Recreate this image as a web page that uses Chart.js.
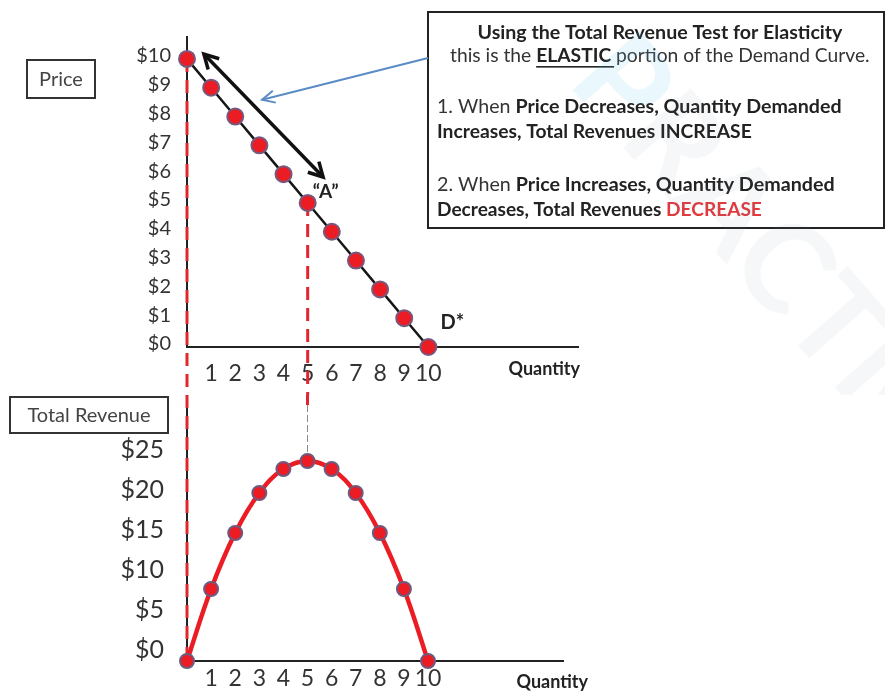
<!DOCTYPE html>
<html>
<head>
<meta charset="utf-8">
<script src="https://cdn.jsdelivr.net/npm/chart.js@4.4.1/dist/chart.umd.min.js"></script>
<style>
  html, body { margin: 0; padding: 0; background: #fff; }
  #wrap { position: relative; width: 885px; height: 692px; overflow: hidden; }
  canvas { position: absolute; left: 0; }
  #demand { top: 0; }
  #revenue { top: 395px; }
</style>
</head>
<body>
<div id="wrap">
  <canvas id="demand" width="885" height="395"></canvas>
  <canvas id="revenue" width="885" height="297"></canvas>
</div>
<script>
// ---- data -------------------------------------------------------------
const quantity      = [0, 1, 2, 3, 4, 5, 6, 7, 8, 9, 10];
const price         = [10, 9, 8, 7, 6, 5, 4, 3, 2, 1, 0];
const totalRevenue  = [0, 9, 16, 21, 24, 25, 24, 21, 16, 9, 0];
const quantityTicks = [1, 2, 3, 4, 5, 6, 7, 8, 9, 10];
const priceTicks    = [0, 1, 2, 3, 4, 5, 6, 7, 8, 9, 10];
const revenueTicks  = [0, 5, 10, 15, 20, 25];
const dropIndices   = [0, 5];          // points carried down to the revenue panel
const pointA        = 5;               // index of the "A" point
// elastic-range arrow, in (quantity, price) units
const elasticArrow  = { from: [0.7, 10.17], to: [5.64, 5.9] };
const calloutTip    = [3.11, 8.58];

const FONT = 'Lato, "Open Sans", "DejaVu Sans", sans-serif';
const RED = '#ec1c24';
const DASH_RED = '#e3262d';
Chart.defaults.font.family = FONT;

const fixedTicks = values => scale => { scale.ticks = values.map(v => ({ value: v })); };
// fixed-width value axis that does not reserve room for its end labels
const fixedWidth = w => s => { s.width = w; s.paddingTop = 0; s.paddingBottom = 0; };

// ---- drawing helpers --------------------------------------------------
function arrowHead(ctx, fx, fy, tx, ty, len, spread) {
  const a = Math.atan2(ty - fy, tx - fx);
  ctx.beginPath();
  ctx.moveTo(tx - len * Math.cos(a - spread), ty - len * Math.sin(a - spread));
  ctx.lineTo(tx, ty);
  ctx.lineTo(tx - len * Math.cos(a + spread), ty - len * Math.sin(a + spread));
  ctx.stroke();
}

function segFont(s, size) { return (s.b ? 'bold ' : '') + size + 'px ' + FONT; }

function lineWidthAt(ctx, segs, size) {
  let w = 0;
  segs.forEach(s => { ctx.font = segFont(s, size); w += ctx.measureText(s.t).width; });
  return w;
}

// draws a run of styled text so that it spans `width` pixels
function richLine(ctx, segs, x, yMid, width, align) {
  const size = 16 * width / lineWidthAt(ctx, segs, 16);
  const total = lineWidthAt(ctx, segs, size);
  let cx = align === 'center' ? x - total / 2 : x;
  ctx.textBaseline = 'middle';
  ctx.textAlign = 'left';
  segs.forEach(s => {
    ctx.font = segFont(s, size);
    const w = ctx.measureText(s.t).width;
    ctx.fillStyle = s.c || (s.b ? '#222' : '#333');
    ctx.fillText(s.t, cx, yMid);
    if (s.u) ctx.fillRect(cx, yMid + size * 0.52, w + 3, 1.6);
    cx += w;
  });
}

function labelBox(ctx, text, x, y, w, h, size) {
  ctx.save();
  ctx.lineWidth = 2;
  ctx.strokeStyle = '#333';
  ctx.strokeRect(x, y, w, h);
  ctx.font = size + 'px ' + FONT;
  ctx.fillStyle = '#444';
  ctx.textAlign = 'center';
  ctx.textBaseline = 'middle';
  ctx.fillText(text, x + w / 2, y + h / 2 + 1);
  ctx.restore();
}

// ---- demand panel decorations ----------------------------------------
const demandDecor = {
  id: 'demandDecor',
  beforeDatasetsDraw(chart) {
    const { ctx, scales: { x, y } } = chart;
    ctx.save();
    ctx.strokeStyle = DASH_RED;
    ctx.lineWidth = 3;
    ctx.setLineDash([13, 8]);
    dropIndices.forEach(i => {
      const px = x.getPixelForValue(quantity[i]);
      ctx.beginPath();
      ctx.moveTo(px, y.getPixelForValue(price[i]));
      ctx.lineTo(px, chart.height);
      ctx.stroke();
    });
    ctx.restore();
  },
  afterDraw(chart) {
    const { ctx, chartArea, scales: { x, y } } = chart;
    ctx.save();

    // double-headed arrow along the elastic range
    const ax1 = x.getPixelForValue(elasticArrow.from[0]), ay1 = y.getPixelForValue(elasticArrow.from[1]);
    const ax2 = x.getPixelForValue(elasticArrow.to[0]),   ay2 = y.getPixelForValue(elasticArrow.to[1]);
    ctx.strokeStyle = '#111';
    ctx.lineWidth = 3.5;
    ctx.lineJoin = 'miter';
    ctx.beginPath(); ctx.moveTo(ax1, ay1); ctx.lineTo(ax2, ay2); ctx.stroke();
    arrowHead(ctx, ax2, ay2, ax1, ay1, 16, 0.5);
    arrowHead(ctx, ax1, ay1, ax2, ay2, 16, 0.5);

    // text box
    const bx = 428, by = 12, bw = 456, bh = 216;
    ctx.fillStyle = '#fff';
    ctx.fillRect(bx, by, bw, bh);
    ctx.lineWidth = 2;
    ctx.strokeStyle = '#222';
    ctx.strokeRect(bx, by, bw, bh);

    // callout from the box to the curve
    const tx = x.getPixelForValue(calloutTip[0]), ty = y.getPixelForValue(calloutTip[1]);
    ctx.strokeStyle = '#5b8bc5';
    ctx.lineWidth = 2;
    ctx.beginPath(); ctx.moveTo(bx, 58); ctx.lineTo(tx, ty); ctx.stroke();
    arrowHead(ctx, bx, 58, tx, ty, 14, 0.45);

    richLine(ctx, [{ t: 'Using the Total Revenue Test for Elasticity', b: true }], 660, 33, 365, 'center');
    richLine(ctx, [{ t: 'this is the ' }, { t: 'ELASTIC', b: true, u: true }, { t: ' portion of the Demand Curve.' }], 450, 56, 420, 'left');
    richLine(ctx, [{ t: '1. When ' }, { t: 'Price Decreases, Quantity Demanded', b: true }], 437, 107, 405, 'left');
    richLine(ctx, [{ t: 'Increases, Total Revenues INCREASE', b: true }], 437, 132, 315, 'left');
    richLine(ctx, [{ t: '2. When ' }, { t: 'Price Increases, Quantity Demanded', b: true }], 437, 185, 398, 'left');
    richLine(ctx, [{ t: 'Decreases, Total Revenues ', b: true }, { t: 'DECREASE', b: true, c: '#e0393e' }], 437, 210, 325, 'left');

    // point labels
    ctx.fillStyle = '#222';
    ctx.textAlign = 'center';
    ctx.textBaseline = 'middle';
    ctx.font = 'bold 19px ' + FONT;
    ctx.fillText('\u201CA\u201D', x.getPixelForValue(quantity[pointA]) + 18, y.getPixelForValue(price[pointA]) - 11);
    ctx.font = 'bold 20px ' + FONT;
    ctx.fillText('D*', x.getPixelForValue(quantity[10]) + 24, y.getPixelForValue(price[9]) + 4);

    // axis names
    ctx.font = 'bold 18px ' + FONT;
    ctx.textAlign = 'right';
    ctx.fillText('Quantity', chartArea.right + 2, chartArea.bottom + 22);
    labelBox(ctx, 'Price', 27, 60, 68, 38, 20);

    // faint watermark
    ctx.translate(596, 56);
    ctx.rotate(Math.PI * 0.27);
    ctx.font = 'bold 124px ' + FONT;
    ctx.textAlign = 'left';
    ctx.fillStyle = 'rgba(90, 195, 235, 0.13)';
    ctx.fillText('P', 0, 0);
    const pw = ctx.measureText('P').width;
    ctx.fillStyle = 'rgba(110, 135, 150, 0.07)';
    ctx.fillText('RACTICE', pw, 0);
    ctx.restore();
  }
};

// ---- revenue panel decorations ---------------------------------------
const revenueDecor = {
  id: 'revenueDecor',
  beforeDatasetsDraw(chart) {
    const { ctx, scales: { x, y } } = chart;
    ctx.save();
    // price-axis drop line continues over the revenue axis
    let px = x.getPixelForValue(quantity[dropIndices[0]]);
    ctx.strokeStyle = DASH_RED;
    ctx.lineWidth = 3;
    ctx.setLineDash([13, 8]);
    ctx.beginPath(); ctx.moveTo(px, 0); ctx.lineTo(px, y.getPixelForValue(totalRevenue[dropIndices[0]])); ctx.stroke();
    // point A drop line meets the revenue peak
    px = x.getPixelForValue(quantity[dropIndices[1]]);
    ctx.beginPath(); ctx.moveTo(px, 0); ctx.lineTo(px, 10); ctx.stroke();
    ctx.strokeStyle = '#8a8a8a';
    ctx.lineWidth = 1;
    ctx.setLineDash([7, 3]);
    ctx.beginPath(); ctx.moveTo(px, 10); ctx.lineTo(px, y.getPixelForValue(totalRevenue[dropIndices[1]])); ctx.stroke();
    ctx.restore();
  },
  afterDraw(chart) {
    const { ctx, chartArea } = chart;
    ctx.save();
    labelBox(ctx, 'Total Revenue', 10, 2, 158, 36, 20);
    ctx.fillStyle = '#222';
    ctx.font = 'bold 18px ' + FONT;
    ctx.textAlign = 'right';
    ctx.textBaseline = 'middle';
    ctx.fillText('Quantity', chartArea.right + 25, chartArea.bottom + 21);
    ctx.restore();
  }
};

// ---- demand curve ------------------------------------------------------
const Y1_W = 60, X1_H = 40;
new Chart(document.getElementById('demand'), {
  type: 'scatter',
  data: {
    datasets: [{
      data: quantity.map((q, i) => ({ x: q, y: price[i] })),
      showLine: true,
      borderColor: '#161616',
      borderWidth: 2.5,
      pointRadius: 8,
      pointBackgroundColor: RED,
      pointBorderColor: '#76597e',
      pointBorderWidth: 2,
      clip: false
    }]
  },
  options: {
    responsive: false,
    animation: false,
    events: [],
    layout: { padding: { left: 187 - Y1_W, top: 37, right: 885 - 578, bottom: 395 - 347 - X1_H } },
    plugins: { legend: { display: false }, tooltip: { enabled: false } },
    scales: {
      x: {
        type: 'linear', min: 0, max: 16.2,
        afterBuildTicks: fixedTicks(quantityTicks),
        afterFit: s => { s.height = X1_H; },
        grid: { display: false },
        border: { color: '#222', width: 2 },
        ticks: { font: { size: 23 }, color: '#333', padding: 5, autoSkip: false, maxRotation: 0 }
      },
      y: {
        type: 'linear', min: 0, max: 10.76,
        afterBuildTicks: fixedTicks(priceTicks),
        afterFit: fixedWidth(Y1_W),
        grid: { display: false },
        border: { color: '#222', width: 2 },
        ticks: { font: { size: 20 }, color: '#333', padding: 8, labelOffset: -3, callback: v => '$' + v }
      }
    }
  },
  plugins: [demandDecor]
});

// ---- total revenue -----------------------------------------------------
const Y2_W = 80, X2_H = 28;
new Chart(document.getElementById('revenue'), {
  type: 'scatter',
  data: {
    datasets: [{
      data: quantity.map((q, i) => ({ x: q, y: totalRevenue[i] })),
      showLine: true,
      tension: 0.4,
      borderColor: RED,
      borderWidth: 4.5,
      pointRadius: 7,
      pointBackgroundColor: RED,
      pointBorderColor: '#6e5a80',
      pointBorderWidth: 2,
      clip: false
    }]
  },
  options: {
    responsive: false,
    animation: false,
    events: [],
    layout: { padding: { left: 187 - Y2_W, top: 10, right: 885 - 563, bottom: 297 - 266 - X2_H } },
    plugins: { legend: { display: false }, tooltip: { enabled: false } },
    scales: {
      x: {
        type: 'linear', min: 0, max: 15.6,
        afterBuildTicks: fixedTicks(quantityTicks),
        afterFit: s => { s.height = X2_H; },
        grid: { display: false },
        border: { color: '#222', width: 2 },
        ticks: { font: { size: 23 }, color: '#333', padding: -4, autoSkip: false, maxRotation: 0 }
      },
      y: {
        type: 'linear', min: 0, max: 32,
        afterBuildTicks: fixedTicks(revenueTicks),
        afterFit: fixedWidth(Y2_W),
        grid: { display: false },
        border: { color: '#222', width: 2 },
        ticks: { font: { size: 25 }, color: '#333', padding: 15, labelOffset: -11, callback: v => '$' + v }
      }
    }
  },
  plugins: [revenueDecor]
});
</script>
</body>
</html>
